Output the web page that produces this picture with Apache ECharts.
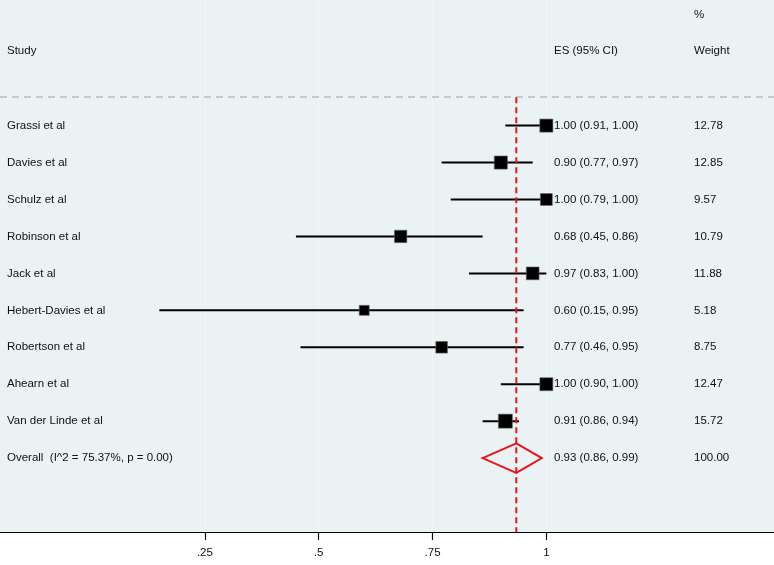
<!DOCTYPE html>
<html lang="en">
<head>
    <meta charset="UTF-8">
    <title>Forest plot</title>
    <style>
        html, body { margin: 0; padding: 0; background: #fff; }
        #box { width: 774px; height: 565px; }
    </style>
    <script src="https://cdn.jsdelivr.net/npm/echarts@6/dist/echarts.min.js"></script>
</head>
<body>
    <div id="box"></div>
    <script>
        // data
        const studies = ['Grassi et al', 'Davies et al', 'Schulz et al', 'Robinson et al', 'Jack et al',
            'Hebert-Davies et al', 'Robertson et al', 'Ahearn et al', 'Van der Linde et al'];
        const es = [1.00, 0.90, 1.00, 0.68, 0.97, 0.60, 0.77, 1.00, 0.91];
        const lower = [0.91, 0.77, 0.79, 0.45, 0.83, 0.15, 0.46, 0.90, 0.86];
        const upper = [1.00, 0.97, 1.00, 0.86, 1.00, 0.95, 0.95, 1.00, 0.94];
        const weights = [12.78, 12.85, 9.57, 10.79, 11.88, 5.18, 8.75, 12.47, 15.72];

        const overallLabel = 'Overall  (I^2 = 75.37%, p = 0.00)';
        const overallES = 0.934;
        const overallLower = 0.86;
        const overallUpper = 0.99;
        const overallWeight = 100.00;

        const xTicks = [0.25, 0.5, 0.75, 1];

        const FONT = '"Liberation Sans", Arial, Helvetica, sans-serif';
        const FS = 11.5;

        var box = document.querySelector('#box');
        const myChart = echarts.init(box);

        const rows = studies.map(function (s, i) {
            return [es[i], i, lower[i], upper[i], weights[i], s];
        });
        const fmt = function (v) { return v.toFixed(2); };

        function txt(x, y, s) {
            return {
                type: 'text',
                style: { x: x, y: y, text: s, fill: '#111', font: FS + 'px ' + FONT, verticalAlign: 'middle', align: 'left' }
            };
        }

        var option = {
            backgroundColor: '#fff',
            animation: false,
            grid: {
                left: 0, right: 0, top: 0, bottom: 33,
                show: true, backgroundColor: '#eaf2f3', borderWidth: 0
            },
            xAxis: {
                type: 'value',
                min: -0.2,
                max: 1.5,
                axisLine: { show: true, onZero: false, lineStyle: { color: '#000', width: 1 } },
                axisTick: { show: true, customValues: xTicks, length: 8, lineStyle: { color: '#000', width: 1.2 } },
                axisLabel: {
                    customValues: xTicks,
                    margin: 15,
                    color: '#111',
                    fontFamily: FONT,
                    fontSize: FS,
                    formatter: function (v) { return String(v).replace(/^0\./, '.'); }
                },
                splitLine: { show: false }
            },
            yAxis: {
                type: 'value',
                inverse: true,
                min: -3.4,
                max: 11.0,
                show: false
            },
            graphic: [
                txt(694, 15, '%'),
                txt(7, 51, 'Study'),
                txt(554, 51, 'ES (95% CI)'),
                txt(694, 51, 'Weight'),
                {
                    type: 'line',
                    shape: { x1: 0, y1: 97, x2: 774, y2: 97 },
                    style: { stroke: '#bdbdbd', lineWidth: 1.5, lineDash: [7, 5] },
                    z: 5
                }
            ],
            series: [
                {
                    // overall reference line, plus faint gridlines at the ticks
                    type: 'line',
                    data: [[overallES, -0.77], [overallES, 11]],
                    symbol: 'none',
                    lineStyle: { color: '#e8141b', width: 2, type: [6, 4] },
                    z: 7,
                    markLine: {
                        silent: true,
                        symbol: 'none',
                        label: { show: false },
                        lineStyle: { color: '#f1f6f7', width: 1, type: 'solid' },
                        data: xTicks.map(function (t) { return { xAxis: t }; }),
                        z: 1
                    }
                },
                {
                    type: 'custom',
                    data: rows,
                    z: 6,
                    renderItem: function (params, api) {
                        var i = api.value(1);
                        var p = api.coord([api.value(0), i]);
                        var lo = api.coord([api.value(2), i]);
                        var hi = api.coord([api.value(3), i]);
                        var side = 4.6 + 2.37 * Math.sqrt(api.value(4));
                        var r = rows[params.dataIndex];
                        return {
                            type: 'group',
                            children: [
                                {
                                    type: 'line',
                                    shape: { x1: lo[0], y1: lo[1], x2: hi[0], y2: hi[1] },
                                    style: { stroke: '#000', lineWidth: 2 }
                                },
                                {
                                    type: 'rect',
                                    shape: { x: p[0] - side / 2, y: p[1] - side / 2, width: side, height: side },
                                    style: { fill: '#000', stroke: '#666', lineWidth: 0.6 },
                                    z2: 10
                                },
                                txt(7, p[1], r[5]),
                                txt(554, p[1], fmt(r[0]) + ' (' + fmt(r[2]) + ', ' + fmt(r[3]) + ')'),
                                txt(694, p[1], fmt(r[4]))
                            ]
                        };
                    }
                },
                {
                    type: 'custom',
                    data: [[overallES, 9, overallLower, overallUpper, overallWeight]],
                    z: 6,
                    renderItem: function (params, api) {
                        var i = api.value(1);
                        var c = api.coord([api.value(0), i]);
                        var top = api.coord([api.value(0), i - 0.4]);
                        var bot = api.coord([api.value(0), i + 0.4]);
                        var lo = api.coord([api.value(2), i]);
                        var hi = api.coord([api.value(3), i]);
                        return {
                            type: 'group',
                            children: [
                                {
                                    type: 'polygon',
                                    shape: { points: [lo, top, hi, bot] },
                                    style: { fill: 'none', stroke: '#e8141b', lineWidth: 2 }
                                },
                                txt(7, c[1], overallLabel),
                                txt(554, c[1], fmt(api.value(0)) + ' (' + fmt(api.value(2)) + ', ' + fmt(api.value(3)) + ')'),
                                txt(694, c[1], fmt(api.value(4)))
                            ]
                        };
                    }
                }
            ]
        };

        myChart.setOption(option);
    </script>
</body>
</html>
